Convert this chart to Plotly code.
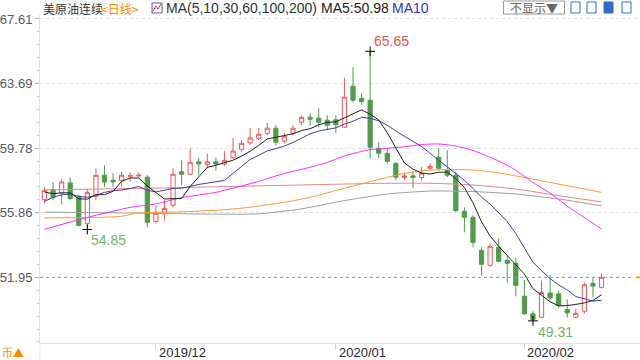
import plotly.graph_objects as go

# ---------------- data ----------------
dates = ["2019-11-13", "2019-11-14", "2019-11-15", "2019-11-18", "2019-11-19", "2019-11-20",
         "2019-11-21", "2019-11-22", "2019-11-25", "2019-11-26", "2019-11-27", "2019-11-28",
         "2019-11-29", "2019-12-02", "2019-12-03", "2019-12-04", "2019-12-05", "2019-12-06",
         "2019-12-09", "2019-12-10", "2019-12-11", "2019-12-12", "2019-12-13", "2019-12-16",
         "2019-12-17", "2019-12-18", "2019-12-19", "2019-12-20", "2019-12-23", "2019-12-24",
         "2019-12-26", "2019-12-27", "2019-12-30", "2019-12-31", "2020-01-02", "2020-01-03",
         "2020-01-06", "2020-01-07", "2020-01-08", "2020-01-09", "2020-01-10", "2020-01-13",
         "2020-01-14", "2020-01-15", "2020-01-16", "2020-01-17", "2020-01-20", "2020-01-21",
         "2020-01-22", "2020-01-23", "2020-01-24", "2020-01-27", "2020-01-28", "2020-01-29",
         "2020-01-30", "2020-01-31", "2020-02-03", "2020-02-04", "2020-02-05", "2020-02-06",
         "2020-02-07", "2020-02-10", "2020-02-11", "2020-02-12", "2020-02-13", "2020-02-14"]

open_ = [56.66, 57.27, 57.06, 57.67, 56.82, 55.20, 56.86, 58.14, 57.83, 57.83, 58.05, 58.10,
         58.02, 55.34, 55.83, 56.32, 58.35, 58.20, 58.95, 58.80, 58.95, 58.82, 59.20, 59.71,
         60.10, 60.38, 60.68, 60.99, 60.20, 60.68, 61.35, 61.65, 61.60, 61.47, 61.50, 61.05,
         63.53, 62.80, 62.68, 59.77, 59.47, 58.86, 58.00, 58.10, 58.00, 58.56, 59.23, 58.44,
         58.14, 55.95, 55.59, 53.59, 52.68, 53.77, 52.98, 52.80, 50.80, 49.74, 49.53, 51.00,
         50.95, 50.00, 49.53, 49.90, 51.58, 51.34]
high = [57.42, 57.73, 57.93, 58.00, 56.92, 57.30, 58.56, 58.74, 58.26, 58.34, 58.30, 58.30,
        58.14, 56.32, 56.62, 58.56, 59.04, 59.77, 59.20, 59.45, 59.20, 59.60, 60.40, 60.26,
        60.99, 60.99, 61.30, 61.17, 60.70, 61.17, 61.77, 61.90, 62.20, 61.77, 61.77, 64.05,
        64.69, 63.10, 65.65, 60.14, 59.77, 58.92, 58.30, 58.40, 58.62, 58.86, 59.77, 59.65,
        58.32, 56.19, 55.70, 53.77, 54.00, 54.31, 53.29, 53.15, 51.80, 49.90, 51.76, 52.07,
        51.15, 50.61, 50.05, 51.64, 51.89, 52.19]
low = [56.44, 56.62, 56.37, 56.62, 55.04, 54.85, 56.62, 57.42, 57.42, 57.42, 57.75, 57.95,
       54.98, 55.22, 55.40, 56.19, 57.53, 58.14, 58.14, 58.56, 58.40, 58.70, 59.15, 59.53,
       59.95, 60.26, 60.56, 59.95, 60.08, 60.56, 61.17, 61.17, 61.05, 60.87, 60.70, 61.00,
       62.56, 62.40, 59.17, 59.17, 58.86, 57.83, 57.83, 57.35, 57.83, 58.44, 58.44, 58.02,
       55.89, 54.68, 53.77, 52.07, 52.60, 52.86, 51.64, 50.80, 49.70, 49.31, 49.50, 50.55,
       50.10, 49.50, 49.50, 49.74, 50.76, 51.28]
close = [57.22, 56.80, 57.73, 56.72, 55.10, 57.10, 58.13, 57.73, 57.73, 58.14, 58.12, 58.14,
         55.28, 55.83, 56.13, 58.20, 58.20, 58.92, 58.82, 58.95, 58.82, 59.04, 59.60, 60.07,
         60.40, 60.62, 60.99, 60.14, 60.50, 60.99, 61.65, 61.53, 61.35, 61.17, 61.20, 62.87,
         62.68, 62.60, 59.83, 59.47, 58.98, 58.02, 58.10, 58.00, 58.26, 58.68, 58.56, 58.14,
         56.00, 55.59, 54.07, 52.74, 53.83, 52.92, 52.80, 51.46, 49.74, 49.40, 51.03, 50.70,
         50.25, 49.80, 49.77, 51.50, 51.42, 51.95]

ma5 = [57.12, 57.02, 57.07, 57.07, 56.71, 56.69, 56.96, 56.96, 57.16, 57.77, 57.97, 57.97,
       57.48, 57.10, 56.70, 56.72, 56.73, 57.46, 58.05, 58.62, 58.74, 58.91, 59.05, 59.30,
       59.59, 59.95, 60.34, 60.44, 60.53, 60.65, 60.85, 60.96, 61.20, 61.34, 61.38, 61.62,
       61.85, 62.10, 61.84, 61.49, 60.71, 59.78, 58.88, 58.51, 58.27, 58.21, 58.32, 58.33,
       57.93, 57.39, 56.47, 55.31, 54.45, 53.83, 53.27, 52.75, 52.15, 51.26, 50.89, 50.47,
       50.22, 50.24, 50.31, 50.40, 50.55, 50.89]
ma10 = [56.55, 56.80, 56.95, 57.00, 56.86, 56.80, 56.92, 57.10, 57.20, 57.24, 57.33, 57.46,
        57.22, 57.13, 57.23, 57.34, 57.35, 57.47, 57.58, 57.66, 57.73, 57.82, 58.25, 58.68,
        59.10, 59.34, 59.62, 59.75, 59.91, 60.12, 60.40, 60.65, 60.82, 60.93, 61.01, 61.24,
        61.41, 61.65, 61.59, 61.44, 61.17, 60.82, 60.49, 60.18, 59.88, 59.46, 59.05, 58.60,
        58.22, 57.83, 57.34, 56.81, 56.39, 55.88, 55.33, 54.61, 53.73, 52.86, 52.36, 51.87,
        51.49, 51.19, 50.79, 50.65, 50.51, 50.56]

ma30_idx = [0, 5, 10, 13, 16, 20, 25, 28, 30, 33, 35, 38, 40, 42, 44, 46, 48, 50, 52, 54, 55,
            57, 59, 61, 63, 65]
ma30_val = [54.86, 55.58, 56.19, 56.40, 56.78, 57.10, 57.77, 58.25, 58.49, 58.91, 59.31, 59.69,
            59.77, 59.86, 60.00, 60.03, 59.91, 59.64, 59.23, 58.74, 58.44, 57.70, 57.05, 56.27,
            55.57, 54.88]
ma60_idx = [0, 6, 9, 11, 16, 21, 24, 28, 31, 35, 38, 42, 45, 49, 52, 55, 58, 61, 65]
ma60_val = [55.55, 55.58, 55.65, 55.85, 55.92, 56.05, 56.20, 56.50, 56.80, 57.35, 57.75, 58.25,
            58.45, 58.48, 58.35, 58.10, 57.80, 57.50, 57.10]
ma100_idx = [0, 15, 30, 40, 45, 50, 55, 60, 65]
ma100_val = [57.25, 57.38, 57.55, 57.65, 57.65, 57.55, 57.30, 56.90, 56.52]
ma200_idx = [0, 10, 20, 25, 30, 35, 40, 45, 50, 55, 60, 65]
ma200_val = [55.90, 55.85, 55.78, 55.80, 56.10, 56.60, 57.00, 57.18, 57.15, 57.00, 56.70, 56.28]

ytick_vals = [67.61, 63.69, 59.78, 55.86, 51.95]
ytick_text = ["67.61", "63.69", "59.78", "55.86", "51.95"]
xtick_idx = [13, 34, 56]
xtick_text = ["2019/12", "2020/01", "2020/02"]

last_price = 51.95
hi_idx, hi_val = 38, 65.65
lo1_idx, lo1_val = 5, 54.85
lo2_idx, lo2_val = 57, 49.31

RED = "#e85a5a"
GREEN = "#4f9c4a"
FONT = "Liberation Sans, Arial, Noto Sans CJK SC, sans-serif"
CJK = "Noto Sans CJK SC, Liberation Sans, sans-serif"

# ---------------- figure ----------------
fig = go.Figure()
fig.add_trace(go.Candlestick(
    x=dates, open=open_, high=high, low=low, close=close,
    increasing=dict(line=dict(color=RED, width=1), fillcolor="#ffffff"),
    decreasing=dict(line=dict(color=GREEN, width=1), fillcolor=GREEN),
    whiskerwidth=0, showlegend=False, hoverinfo="skip"))

def ma_line(idx, vals, color):
    fig.add_trace(go.Scatter(x=[dates[i] for i in idx], y=vals, mode="lines",
                             line=dict(color=color, width=1, shape="spline", smoothing=0.6),
                             showlegend=False, hoverinfo="skip"))

ma_line(ma200_idx, ma200_val, "#a0a0a0")
ma_line(ma100_idx, ma100_val, "#e98585")
ma_line(ma60_idx, ma60_val, "#ff9a2e")
ma_line(ma30_idx, ma30_val, "#ff28ff")
fig.add_trace(go.Scatter(x=dates, y=ma10, mode="lines", line=dict(color="#3a3fb0", width=1),
                         showlegend=False, hoverinfo="skip"))
fig.add_trace(go.Scatter(x=dates, y=ma5, mode="lines", line=dict(color="#222222", width=1),
                         showlegend=False, hoverinfo="skip"))

# extreme markers
fig.add_trace(go.Scatter(x=[dates[hi_idx], dates[lo1_idx], dates[lo2_idx]],
                         y=[hi_val, lo1_val, lo2_val], mode="markers",
                         marker=dict(symbol="cross-thin", size=7, line=dict(color="#000", width=1)),
                         showlegend=False, hoverinfo="skip"))

def px_x(px):
    return (px - 40) / 600.0

def px_y(py):
    return (343 - py) / 328.0

ann = []
ann.append(dict(x=dates[hi_idx], y=hi_val, xref="x", yref="y", text=f"{hi_val:.2f}",
                showarrow=False, xanchor="left", yanchor="bottom", xshift=2, yshift=0,
                font=dict(family=FONT, size=14, color="#e05555")))
ann.append(dict(x=dates[lo1_idx], y=lo1_val, xref="x", yref="y", text=f"{lo1_val:.2f}",
                showarrow=False, xanchor="left", yanchor="top", xshift=2, yshift=-1,
                font=dict(family=FONT, size=14, color="#72b466")))
ann.append(dict(x=dates[lo2_idx], y=lo2_val, xref="x", yref="y", text=f"{lo2_val:.2f}",
                showarrow=False, xanchor="left", yanchor="top", xshift=3, yshift=-1,
                font=dict(family=FONT, size=14, color="#72b466")))

# x tick labels (placed just right of each tick)
for i, t in zip(xtick_idx, xtick_text):
    ann.append(dict(x=dates[i], y=px_y(352), xref="x", yref="paper", text=t,
                    showarrow=False, xanchor="left", yanchor="middle", xshift=1,
                    font=dict(family=FONT, size=13, color="#2a2a2a")))

# header texts
hdr_y = px_y(8)
ann.append(dict(x=px_x(41), y=hdr_y, xref="paper", yref="paper", text="美原油连续",
                showarrow=False, xanchor="left", yanchor="middle",
                font=dict(family=CJK, size=12, color="#333333")))
ann.append(dict(x=px_x(99), y=hdr_y, xref="paper", yref="paper", text="&lt;日线&gt;",
                showarrow=False, xanchor="left", yanchor="middle",
                font=dict(family=CJK, size=12, color="#ff8a00")))
ann.append(dict(x=px_x(164), y=hdr_y, xref="paper", yref="paper", text="MA(5,10,30,60,100,200)",
                showarrow=False, xanchor="left", yanchor="middle",
                font=dict(family=FONT, size=14, color="#333333")))
ann.append(dict(x=px_x(319), y=hdr_y, xref="paper", yref="paper", text="MA5:50.98",
                showarrow=False, xanchor="left", yanchor="middle",
                font=dict(family=FONT, size=14, color="#222222")))
ann.append(dict(x=px_x(390), y=hdr_y, xref="paper", yref="paper", text="MA10",
                showarrow=False, xanchor="left", yanchor="middle",
                font=dict(family=FONT, size=14, color="#3333cc")))
ann.append(dict(x=px_x(534), y=px_y(7.5), xref="paper", yref="paper", text="不显示▼",
                showarrow=False, xanchor="center", yanchor="middle",
                font=dict(family=CJK, size=12, color="#666666")))
ann.append(dict(x=px_x(0), y=px_y(352), xref="paper", yref="paper", text="币▲",
                showarrow=False, xanchor="left", yanchor="middle",
                font=dict(family=CJK, size=11, color="#ff8a00")))

shapes = []
# last price dashed line
shapes.append(dict(type="line", xref="paper", yref="y", x0=0, x1=px_x(633), y0=last_price,
                   y1=last_price, line=dict(color="#4da6ff", width=1, dash="3px,3px")))
shapes.append(dict(type="rect", xref="paper", yref="y", x0=px_x(636), x1=1, y0=last_price - 0.06,
                   y1=last_price + 0.06, line=dict(width=0), fillcolor="#ff9a2e"))
# vertical divider under axis
shapes.append(dict(type="line", xref="paper", yref="paper", x0=0, x1=0, y0=px_y(343),
                   y1=px_y(360), line=dict(color="#dde2ea", width=1)))
# "不显示" box
shapes.append(dict(type="rect", xref="paper", yref="paper", x0=px_x(503.5), x1=px_x(564.5),
                   y0=px_y(14), y1=px_y(1), line=dict(color="#9a9a9a", width=1), fillcolor="#ffffff"))
# toolbar icons
for i, (a, b) in enumerate([(571, 580), (587, 596), (604, 613), (622, 631)]):
    shapes.append(dict(type="rect", xref="paper", yref="paper", x0=px_x(a), x1=px_x(b),
                       y0=px_y(13), y1=px_y(2), line=dict(color="#2f6fc8", width=1),
                       fillcolor="#2f6fc8" if i == 2 else "#ffffff"))
# legend icon
shapes.append(dict(type="rect", xref="paper", yref="paper", x0=px_x(152), x1=px_x(162),
                   y0=px_y(13), y1=px_y(3), line=dict(color="#4060b0", width=1), fillcolor="#ffffff"))
shapes.append(dict(type="path", xref="paper", yref="paper",
                   path=f"M {px_x(153)},{px_y(11)} L {px_x(156)},{px_y(6)} L {px_x(158)},{px_y(9)} L {px_x(161)},{px_y(4)}",
                   line=dict(color="#e04040", width=1)))

fig.update_layout(
    width=640, height=360,
    margin=dict(l=40, r=0, t=15, b=17, autoexpand=False),
    paper_bgcolor="#ffffff", plot_bgcolor="#ffffff",
    showlegend=False,
    annotations=ann, shapes=shapes,
    font=dict(family=FONT, size=12, color="#555"),
    xaxis=dict(type="category", range=[-0.525, 69.49], rangeslider=dict(visible=False),
               automargin=False,
               showgrid=False, zeroline=False, showline=True, linecolor="#dde2ea",
               ticks="outside", ticklen=5, tickcolor="#cfd4dc",
               tickmode="array", tickvals=[dates[i] for i in xtick_idx], ticktext=xtick_text,
               showticklabels=False),
    yaxis=dict(range=[47.97, 67.85], showgrid=True, gridcolor="#e2e2e2", griddash="dot",
               automargin=False,
               zeroline=False, showline=True, linecolor="#dde2ea",
               ticks="outside", ticklen=4, tickcolor="#aab0bb",
               tickmode="array", tickvals=ytick_vals, ticktext=ytick_text,
               tickfont=dict(family=FONT, size=13, color="#555a66"),
               minor=dict(ticks="outside", ticklen=2, tickcolor="#c8ccd4",
                          tickmode="linear", tick0=51.95, dtick=0.783)),
)

fig.write_html("out.html", config={"displayModeBar": False},
               post_script="document.body.style.margin='0';")
